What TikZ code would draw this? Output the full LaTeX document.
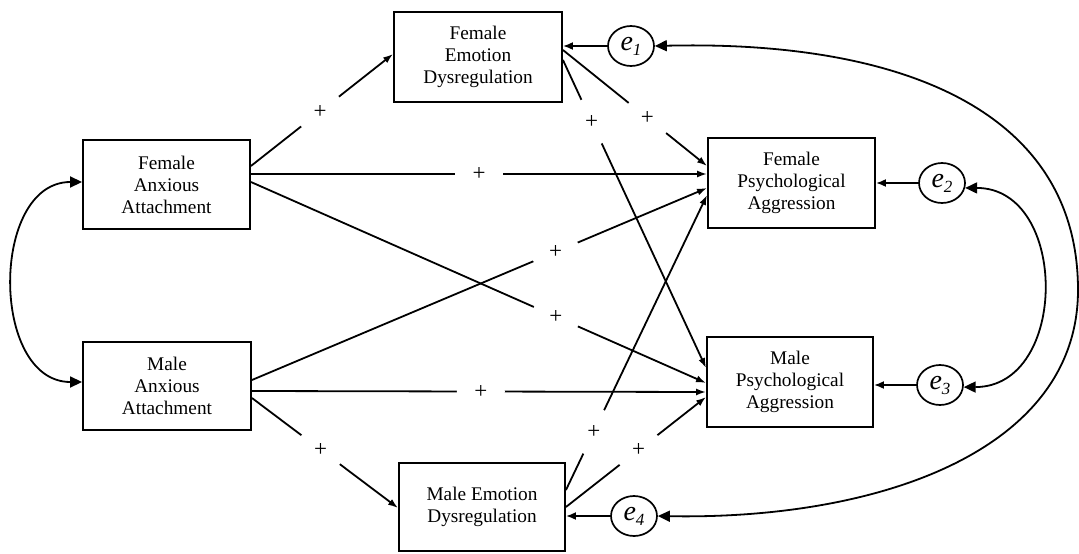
\documentclass[tikz,border=0pt]{standalone}
\usepackage{fontspec}
\setmainfont{Liberation Serif}
\usetikzlibrary{arrows.meta,shapes.geometric,calc}
\newcommand\elab[1]{{\fontsize{28}{28}\selectfont\textit{e}}\raisebox{-5pt}{\fontsize{17}{17}\selectfont\textit{#1}}}
\begin{document}
\begin{tikzpicture}[x=1pt,y=-1pt,
  bx/.style={draw,line width=1.9pt,minimum width=167pt,minimum height=89pt,align=center,inner sep=0pt,font=\fontsize{19.3}{22}\selectfont},
  err/.style={draw,ellipse,line width=1.7pt,minimum width=46pt,minimum height=40pt,inner sep=0pt},
  arr/.style={line width=1.8pt,-{Latex[length=10pt,width=7pt]}},
  earr/.style={line width=1.8pt,-{Latex[length=10pt,width=8pt]}},
  cov/.style={line width=1.8pt,{Triangle[length=12pt,width=11pt]}-{Triangle[length=12pt,width=11pt]}},
  pl/.style={circle,fill=white,inner sep=0pt,minimum size=48pt,font=\fontsize{23}{23}\selectfont}
]
\useasboundingbox (0,0) rectangle (1079,554);
% boxes
\node[bx,minimum width=167pt,minimum height=89pt] (FAA) at (166.5,184.5) {Female\\Anxious\\Attachment};
\node[bx,minimum width=168pt,minimum height=88pt] (MAA) at (167,386) {Male\\Anxious\\Attachment};
\node[bx,minimum width=168pt,minimum height=90pt] (FED) at (478,57) {Female\\Emotion\\Dysregulation};
\node[bx,minimum width=166pt,minimum height=88pt] (MED) at (482,507) {Male Emotion\\Dysregulation};
\node[bx,minimum width=167pt,minimum height=90pt] (FPA) at (791.5,183) {Female\\Psychological\\Aggression};
\node[bx,minimum width=166pt,minimum height=90pt] (MPA) at (790,382) {Male\\Psychological\\Aggression};
% errors
\node[err] (e1) at (631,46) {\elab{1}};
\node[err] (e2) at (942,183) {\elab{2}};
\node[err] (e3) at (940,385) {\elab{3}};
\node[err] (e4) at (634,516) {\elab{4}};
% paths
\draw[arr] ($(FAA.east)+(0,-18.5)$) -- node[pl,pos=.486] (p1) {+} ($(FED.west)+(0,-3)$);
\draw[arr] ($(FAA.east)+(0,-10.5)$) -- node[pl,pos=.5] (p2) {+} ($(FPA.west)+(0,-9)$);
\draw[arr] ($(FAA.east)+(0,-2.5)$) -- node[pl,pos=.67] (p3) {+} ($(MPA.west)+(0,1)$);
\draw[arr] ($(MAA.east)+(0,-6)$) -- node[pl,pos=.667] (p4) {+} ($(FPA.west)+(0,5)$);
\draw[arr] ($(MAA.east)+(0,5)$) -- node[pl,pos=.504] (p5) {+} ($(MPA.west)+(0,10)$);
\draw[arr] ($(MAA.east)+(0,12)$) -- node[pl,pos=.47] (p6) {+} ($(MED.west)+(0,1)$);
\draw[arr] ($(FED.east)+(0,-7)$) -- node[pl,pos=.586] (p7) {+} ($(FPA.west)+(0,-17)$);
\draw[arr] ($(FED.east)+(0,3)$) -- node[pl,pos=.2] (p8) {+} ($(MPA.west)+(0,-14)$);
\draw[arr] ($(MED.east)+(0,-17)$) -- node[pl,pos=.197] (p9) {+} ($(FPA.west)+(0,12)$);
\draw[arr] (MED.east) -- node[pl,pos=.518] (p10) {+} ($(MPA.west)+(0,15)$);
% error arrows
\draw[earr] (e1) -- (FED.east |- e1);
\draw[earr] (e2) -- (FPA.east |- e2);
\draw[earr] (e3) -- (MPA.east |- e3);
\draw[earr] (e4) -- (MED.east |- e4);
% covariances
\draw[cov] ($(FAA.west)+(0,-2.5)$) .. controls (-10,182) and (-10,382) .. ($(MAA.west)+(0,-4)$);
\draw[cov] (e2.-12) .. controls (1069,188) and (1069,387) .. (e3.-5);
\draw[cov] (e1.east) .. controls (900,40) and (1078,110) .. (1078,290) .. controls (1078,450) and (880,520) .. (e4.east);
\end{tikzpicture}
\end{document}
